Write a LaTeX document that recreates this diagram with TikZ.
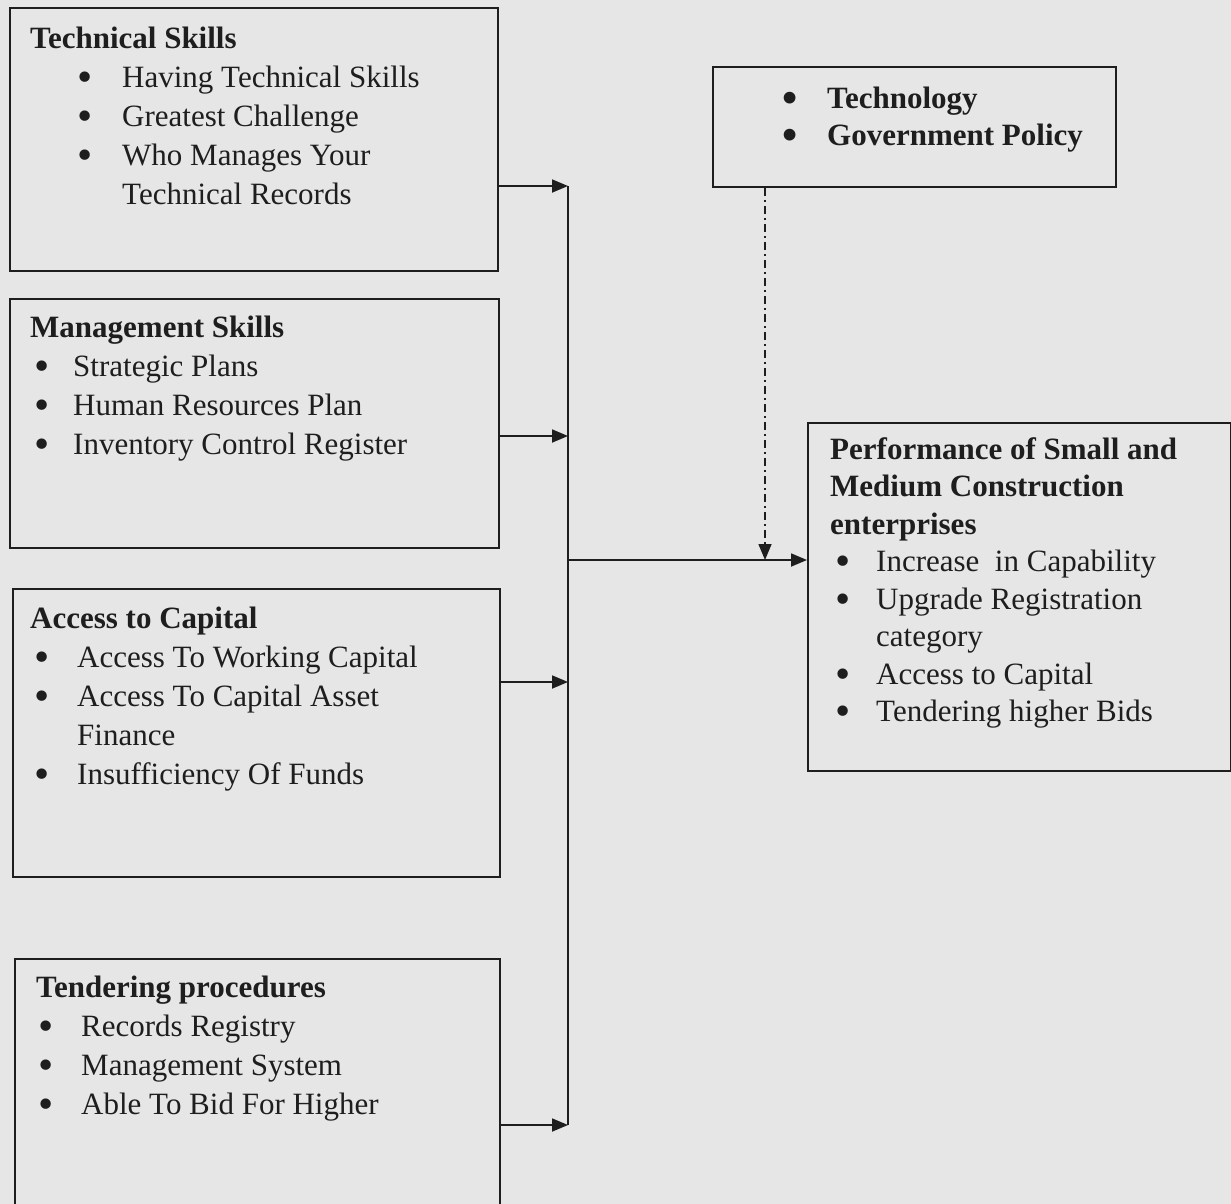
\documentclass[tikz,border=0pt]{standalone}
\usepackage{fontspec}
\setmainfont{Liberation Serif}
\usepackage{xcolor}
\usepackage{graphicx}
\usetikzlibrary{positioning, arrows.meta}

\definecolor{paper}{RGB}{230,230,230}
\definecolor{ink}{RGB}{30,30,30}

\tikzset{
  box/.style={draw=ink, line width=1.8pt, anchor=north west, inner sep=0pt},
  words/.style={anchor=north west, inner sep=0pt, align=left, text=ink,
    font=\fontsize{31}{39}\selectfont},
  flow/.style={draw=ink, line width=1.8pt, -{Triangle[length=16pt,width=13pt]}},
  bus/.style={draw=ink, line width=1.8pt}
}

\newcommand{\bul}[1]{\makebox[#1][l]{\raisebox{-4pt}[0pt][0pt]{\scalebox{1.4}{\textbullet}}}}

\begin{document}
\begin{tikzpicture}[x=1pt, y=-1pt]
  % page
  \fill[paper] (0,0) rectangle (1231,1204);
  \useasboundingbox (0,0) rectangle (1231,1204);
  \clip (0,0) rectangle (1231,1204);

  % boxes
  \node[box, minimum width=488, minimum height=263] (tech) at (9,7) {};
  \node[box, minimum width=489, minimum height=249] (mgmt) at (9,298) {};
  \node[box, minimum width=487, minimum height=288] (capital) at (12,588) {};
  \node[box, minimum width=485, minimum height=272] (tender) at (14,958) {};
  \node[box, minimum width=403, minimum height=120] (factors) at (712,66) {};
  \node[box, minimum width=423, minimum height=348] (perf) at (807,422) {};

  % texts (first baseline minus strut height)
  \node[words] (tech-text) at (30,20.7) {\strut\textbf{Technical Skills}\\
    \hspace*{47pt}\bul{45pt}Having Technical Skills\\
    \hspace*{47pt}\bul{45pt}Greatest Challenge\\
    \hspace*{47pt}\bul{45pt}Who Manages Your\\
    \hspace*{92pt}Technical Records};
  \node[words] (mgmt-text) at (30,309.7) {\strut\textbf{Management Skills}\\
    \hspace*{4pt}\bul{39pt}Strategic Plans\\
    \hspace*{4pt}\bul{39pt}Human Resources Plan\\
    \hspace*{4pt}\bul{39pt}Inventory Control Register};
  \node[words] (capital-text) at (30,600.7) {\strut\textbf{Access to Capital}\\
    \hspace*{4pt}\bul{43pt}Access To Working Capital\\
    \hspace*{4pt}\bul{43pt}Access To Capital Asset\\
    \hspace*{47pt}Finance\\
    \hspace*{4pt}\bul{43pt}Insufficiency Of Funds};
  \node[words] (tender-text) at (36,969.7) {\strut\textbf{Tendering procedures}\\
    \hspace*{2pt}\bul{43pt}Records Registry\\
    \hspace*{2pt}\bul{43pt}Management System\\
    \hspace*{2pt}\bul{43pt}Able To Bid For Higher};
  \node[words, font=\fontsize{31}{37}\selectfont\bfseries] (factors-text) at (782,82.7) {\strut\bul{45pt}Technology\\
    \bul{45pt}Government Policy};
  \node[words, font=\fontsize{31}{37.5}\selectfont] (perf-text) at (830,432.7) {\strut\textbf{Performance of Small and}\\
    \textbf{Medium Construction}\\
    \textbf{enterprises}\\
    \hspace*{5pt}\bul{41pt}Increase~ in Capability\\
    \hspace*{5pt}\bul{41pt}Upgrade Registration\\
    \hspace*{46pt}category\\
    \hspace*{5pt}\bul{41pt}Access to Capital\\
    \hspace*{5pt}\bul{41pt}Tendering higher Bids};

  % arrows into the bus
  \foreach \b/\y in {tech/186, mgmt/436, capital/682, tender/1125} {
    \coordinate (bus-\b) at (568,\y);
    \draw[flow] (\b.east |- bus-\b) -- (bus-\b);
  }
  \draw[bus] (bus-tech) -- (bus-tender);

  % bus to performance
  \coordinate (bus-out) at (568,560);
  \draw[flow] (bus-out) -- (perf.west |- bus-out);

  % moderating factors
  \coordinate (mod) at ([xshift=53pt]factors.south west);
  \draw[flow, line width=1.5pt, dash pattern=on 8pt off 4pt on 2pt off 4pt] (mod) -- (mod |- bus-out);
\end{tikzpicture}
\end{document}
